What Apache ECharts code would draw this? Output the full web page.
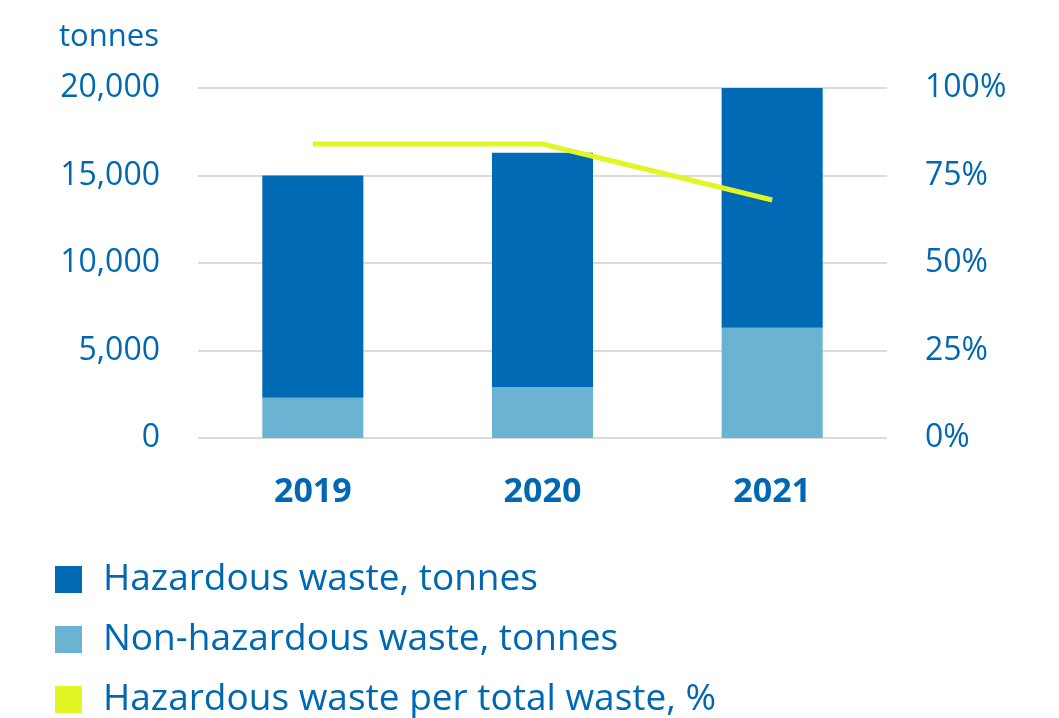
<!DOCTYPE html>
<html>
<head>
<meta charset="utf-8">
<script src="https://cdn.jsdelivr.net/npm/echarts@6/dist/echarts.min.js"></script>
<style>html,body{margin:0;padding:0;background:#fff}#c{width:1059px;height:718px}</style>
</head>
<body>
<div id="c"></div>
<script>
const categories = ['2019', '2020', '2021'];
const hazardous = [12700, 13400, 13700];
const nonHazardous = [2300, 2900, 6300];
const hazardousShare = [84, 84, 68];
const leftTicks = [0, 5000, 10000, 15000, 20000];
const rightTicks = [0, 25, 50, 75, 100];
const legendNames = ['Hazardous waste, tonnes', 'Non-hazardous waste, tonnes', 'Hazardous waste per total waste, %'];

const TXT = '#0068b3';
const FONT = 'Open Sans';
const legendTops = [561, 621, 681];
const chart = echarts.init(document.getElementById('c'), null, {renderer: 'canvas'});
chart.setOption({
  backgroundColor: '#fff',
  animation: false,
  textStyle: {fontFamily: FONT, color: TXT},
  title: {
    text: 'tonnes', left: 54, top: 17,
    textStyle: {fontFamily: FONT, fontSize: 31, fontWeight: 'normal', color: TXT}
  },
  grid: {left: 198, right: 172, top: 88, bottom: 280},
  legend: legendNames.map((n, i) => ({
    orient: 'vertical', left: 55, top: legendTops[i], padding: 0,
    itemWidth: 27, itemHeight: 27,
    icon: 'rect',
    textStyle: {fontFamily: FONT, fontSize: 37, color: TXT, padding: [3, 0, 0, 16]},
    data: [n]
  })),
  xAxis: {
    type: 'category', data: categories,
    axisLine: {show: false}, axisTick: {show: false},
    axisLabel: {fontFamily: FONT, fontSize: 34, fontWeight: 'bold', color: TXT, margin: 37}
  },
  yAxis: [
    {
      type: 'value', min: 0, max: 20000, interval: 5000,
      axisLine: {show: false}, axisTick: {show: false},
      splitLine: {lineStyle: {color: '#dddbd6', width: 2}},
      axisLabel: {
        fontFamily: FONT, fontSize: 32, color: TXT, margin: 38,
        formatter: v => leftTicks.includes(v) ? v.toLocaleString('en-US') : ''
      }
    },
    {
      type: 'value', min: 0, max: 100, interval: 25,
      axisLine: {show: false}, axisTick: {show: false}, splitLine: {show: false},
      axisLabel: {
        fontFamily: FONT, fontSize: 32, color: TXT, margin: 38,
        formatter: v => rightTicks.includes(v) ? v + '%' : ''
      }
    }
  ],
  series: [
    {
      name: legendNames[1], type: 'bar', stack: 'w',
      data: nonHazardous, barWidth: '44%', itemStyle: {color: '#6ab3d3'}
    },
    {
      name: legendNames[0], type: 'bar', stack: 'w',
      data: hazardous, barWidth: '44%', itemStyle: {color: '#006bb4'}
    },
    {
      name: legendNames[2], type: 'line', yAxisIndex: 1,
      data: hazardousShare, showSymbol: false, symbol: 'none', z: 5,
      lineStyle: {color: '#e2f623', width: 5},
      itemStyle: {color: '#e2f623'}
    }
  ]
});
</script>
</body>
</html>
